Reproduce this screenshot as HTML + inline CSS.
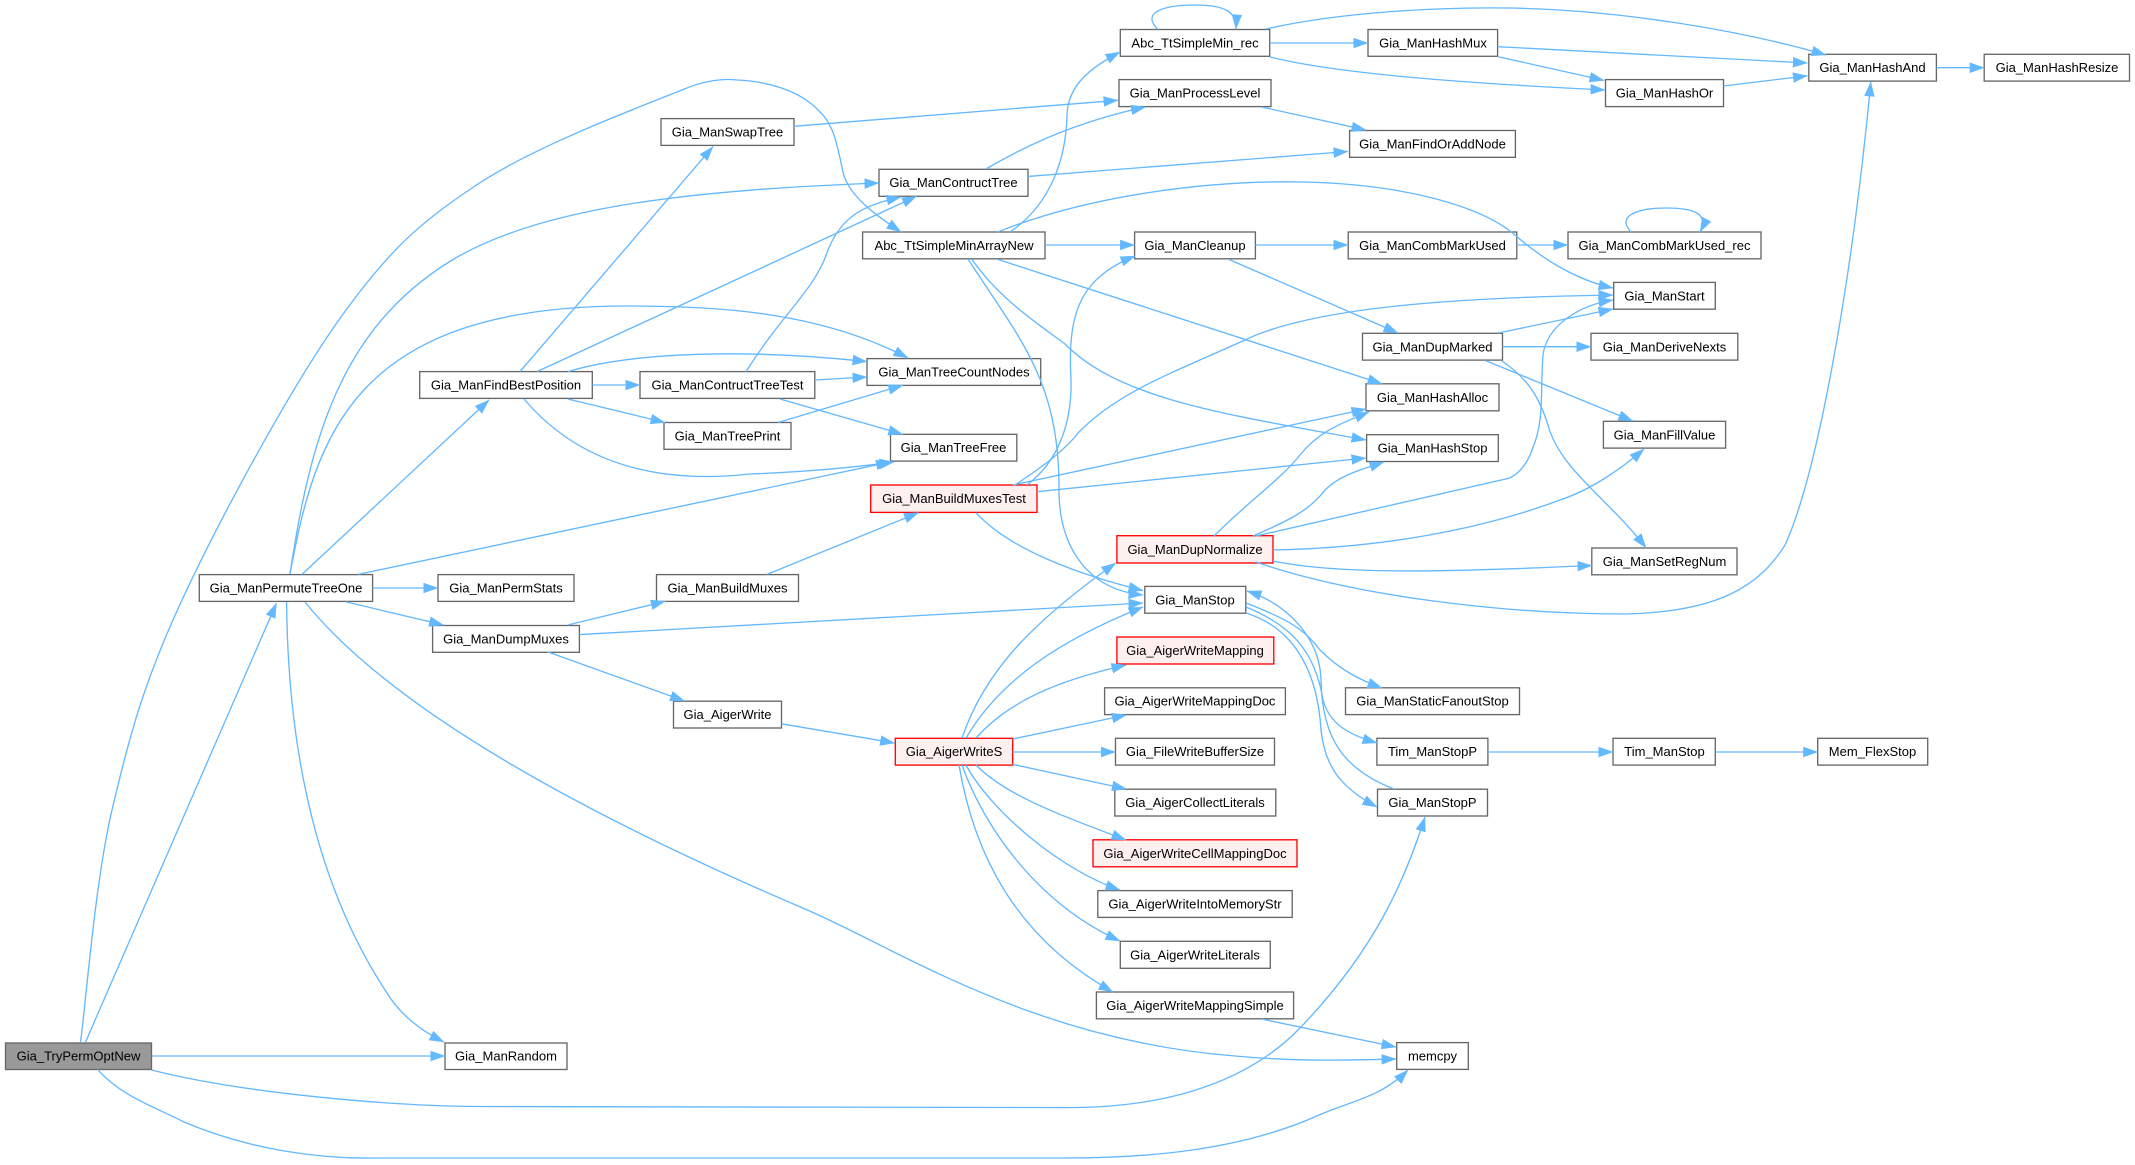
<!DOCTYPE html>
<html><head><meta charset="utf-8"><style>html,body{margin:0;padding:0;background:#fff}svg{display:block}text{font-family:"Liberation Sans",Arial,sans-serif;font-size:13px;text-anchor:middle;fill:#000}</style></head><body>
<svg xmlns="http://www.w3.org/2000/svg" width="2135" height="1165" viewBox="0 0 2135 1165">
<defs><marker id="a" markerUnits="userSpaceOnUse" viewBox="0 0 15 10.5" markerWidth="15" markerHeight="10.5" refX="14.5" refY="5.25" orient="auto"><polygon points="0,0 15,5.25 0,10.5" fill="#63b8ff"/></marker></defs>
<rect width="2135" height="1165" fill="#fff"/>
<g fill="#fff" stroke="#666" stroke-width="1.33">
<rect x="5.5" y="1043" width="146" height="26.5" fill="#999"/>
<rect x="199.3" y="574.6" width="173.3" height="26.8"/>
<rect x="438" y="574.6" width="136" height="26.8"/>
<rect x="656.5" y="574.6" width="142" height="26.8"/>
<rect x="432.6" y="625.5" width="146.8" height="26.8"/>
<rect x="673.5" y="701.2" width="108" height="26.8"/>
<rect x="445" y="1043" width="122" height="26.5"/>
<rect x="661" y="118.6" width="133" height="26.8"/>
<rect x="879" y="169.3" width="149" height="27"/>
<rect x="862.6" y="232" width="182.4" height="26.8"/>
<rect x="419.7" y="371.6" width="172.6" height="26.8"/>
<rect x="640" y="371.6" width="174.8" height="26.8"/>
<rect x="867" y="358.6" width="173.7" height="26.8"/>
<rect x="664" y="422.5" width="127" height="26.8"/>
<rect x="890.5" y="434.3" width="126.3" height="26.8"/>
<rect x="1120.3" y="29.5" width="149.4" height="26.8"/>
<rect x="1368" y="29.5" width="129.6" height="26.8"/>
<rect x="1808.8" y="54.3" width="127.6" height="26.8"/>
<rect x="1984.2" y="54.3" width="145.3" height="26.8"/>
<rect x="1119" y="79.6" width="152" height="27"/>
<rect x="1605.5" y="79.6" width="118" height="27"/>
<rect x="1349.6" y="130.5" width="165.8" height="26.8"/>
<rect x="1134.6" y="232" width="120.8" height="26.8"/>
<rect x="1348.2" y="232" width="168.6" height="26.8"/>
<rect x="1568" y="232" width="193" height="26.8"/>
<rect x="1613.7" y="282.4" width="101.6" height="26.8"/>
<rect x="1362.5" y="333.3" width="140" height="26.8"/>
<rect x="1591" y="333.3" width="146.8" height="26.8"/>
<rect x="1366" y="383.8" width="133" height="27"/>
<rect x="1603.4" y="421.3" width="122.2" height="26.8"/>
<rect x="1366.6" y="434.7" width="131.7" height="26.8"/>
<rect x="1591.8" y="548" width="145.2" height="26.8"/>
<rect x="1144.8" y="586.4" width="101" height="26.8"/>
<rect x="1104.6" y="687.8" width="180.8" height="26.8"/>
<rect x="1115.5" y="738.3" width="159" height="26.8"/>
<rect x="1114.8" y="789.2" width="161" height="26.8"/>
<rect x="1097.8" y="890.6" width="194.4" height="26.8"/>
<rect x="1120.3" y="941.3" width="150" height="27"/>
<rect x="1096.4" y="992" width="197.2" height="26.8"/>
<rect x="1345.5" y="687.8" width="174" height="26.8"/>
<rect x="1376.9" y="738.3" width="111" height="26.8"/>
<rect x="1613" y="738.3" width="102.3" height="26.8"/>
<rect x="1817.7" y="738.3" width="110" height="26.8"/>
<rect x="1377.5" y="789.2" width="110" height="26.8"/>
<rect x="1396.7" y="1042.6" width="71.6" height="26.8"/>
</g>
<g fill="#fff0f0" stroke="#f00" stroke-width="1.33">
<rect x="870.7" y="485" width="166.3" height="27.4"/>
<rect x="1116.9" y="535.7" width="156.1" height="27.3"/>
<rect x="1116.9" y="637" width="156.9" height="27"/>
<rect x="895.3" y="738.3" width="117.4" height="26.8"/>
<rect x="1093" y="839.8" width="204" height="27"/>
</g>
<g fill="none" stroke="#63b8ff" stroke-width="1.33">
<path marker-end="url(#a)" d="M80.5,1042 C86,1003 94.7,883.7 112,810 C129.3,736.3 143.8,682.2 182,600 C220.2,517.8 291.3,386.3 341,317 C390.7,247.7 421.2,221.8 478,184 C534.8,146.2 638.8,107.3 682,90 C700,82 720,78 737,80 C765,81 800,90 819,111 C835,125 838,150 843,172 C848,195 875,215 901,232"/>
<path marker-end="url(#a)" d="M85.3,1042.6 Q181.5,823.5 276.4,603.3"/>
<path marker-end="url(#a)" d="M151.5,1056 L445,1056"/>
<path marker-end="url(#a)" d="M151.5,1070 C250,1095 400,1106 478,1106.5 L1065,1107.6 C1150,1108 1240,1090 1300,1028 C1375,950 1405,880 1425,817"/>
<path marker-end="url(#a)" d="M97.6,1069.4 C120,1095 150,1105 184,1122 C250,1150 320,1159 375,1158 L1065,1158 C1150,1158 1240,1150 1317,1116 C1350,1101 1380,1098 1408,1070"/>
<path marker-end="url(#a)" d="M290,574 C310,440 340,330 449,262 C540,205 700,190 879,183"/>
<path marker-end="url(#a)" d="M290,574 C315,440 350,306 628,306 C720,306 820,312 908,358"/>
<path marker-end="url(#a)" d="M302,574.4 L489,400"/>
<path marker-end="url(#a)" d="M358,574.4 L890.5,462"/>
<path marker-end="url(#a)" d="M372.6,588 L438,588"/>
<path marker-end="url(#a)" d="M346.7,602 L443.6,625"/>
<path marker-end="url(#a)" d="M286.6,602 C288,760 320,890 385,990 C400,1015 420,1030 444,1042"/>
<path marker-end="url(#a)" d="M305,602 C400,720 620,830 805,909 C895,947 1030,1040 1235,1056 C1300,1062 1350,1060 1396,1059"/>
<path marker-end="url(#a)" d="M520,371.6 L713,146.6"/>
<path marker-end="url(#a)" d="M537,371.6 L916.5,196.3"/>
<path marker-end="url(#a)" d="M567.8,371.6 C640,350 760,350 867,361.6"/>
<path marker-end="url(#a)" d="M592.3,385 L640,385"/>
<path marker-end="url(#a)" d="M567.8,399 L665,422.5"/>
<path marker-end="url(#a)" d="M524,399 C580,465 660,484 750,474 C800,472 850,468 894,462"/>
<path marker-end="url(#a)" d="M746,371.6 C785,310 815,290 828,250 C842,215 865,205 901,197"/>
<path marker-end="url(#a)" d="M814.8,380 L867,377"/>
<path marker-end="url(#a)" d="M780,399 L902.8,434.3"/>
<path marker-end="url(#a)" d="M778,422.5 L902.8,385.3"/>
<path marker-end="url(#a)" d="M793.6,126.3 L1118,100.3"/>
<path marker-end="url(#a)" d="M986,169 Q1060,125 1145.5,107"/>
<path marker-end="url(#a)" d="M1028,176.4 L1348,151.5"/>
<path marker-end="url(#a)" d="M1010,232 C1050,205 1066,160 1067,115 C1068,85 1090,68 1120,52"/>
<path marker-end="url(#a)" d="M997.7,232 C1090,195 1210,180 1304,182 C1400,184 1480,205 1515,235 C1540,257 1575,280 1613,288"/>
<path marker-end="url(#a)" d="M1045,245 L1134.6,245"/>
<path marker-end="url(#a)" d="M997.7,259.4 L1382,383.8"/>
<path marker-end="url(#a)" d="M972,259.4 C1000,300 1040,325 1065,344 C1120,400 1230,415 1366,440"/>
<path marker-end="url(#a)" d="M968,259 C1020,340 1060,380 1059,493 C1060,550 1090,590 1143,595"/>
<path marker-end="url(#a)" d="M1027,485 C1060,460 1072,420 1071,380 C1068,320 1075,280 1135,256"/>
<path marker-end="url(#a)" d="M1015,485 C1045,465 1065,450 1079,432 C1120,390 1180,370 1256,335 C1320,310 1430,298 1613,295"/>
<path marker-end="url(#a)" d="M1013,485 L1366,409"/>
<path marker-end="url(#a)" d="M1037,491.7 L1366,458"/>
<path marker-end="url(#a)" d="M976,512.7 C1010,550 1080,575 1143,590.6"/>
<path marker-end="url(#a)" d="M579.4,634.6 L1143,603"/>
<path marker-end="url(#a)" d="M567.8,625 L665.3,601.4"/>
<path marker-end="url(#a)" d="M548,652 L684.5,701"/>
<path marker-end="url(#a)" d="M767,574.4 L918.5,512.7"/>
<path marker-end="url(#a)" d="M781.4,723.8 L894.6,743"/>
<path marker-end="url(#a)" d="M962,738 C985,670 1035,620 1115.7,563"/>
<path marker-end="url(#a)" d="M966,738 C1000,680 1060,640 1143,607"/>
<path marker-end="url(#a)" d="M976,738 C1010,700 1060,680 1126,665"/>
<path marker-end="url(#a)" d="M1012.7,739 L1126.4,715"/>
<path marker-end="url(#a)" d="M1012.7,752 L1115.5,752"/>
<path marker-end="url(#a)" d="M1012.7,764.4 L1126.4,789"/>
<path marker-end="url(#a)" d="M976,765 C1005,795 1060,815 1126,840"/>
<path marker-end="url(#a)" d="M966,765 C990,810 1060,870 1120,890"/>
<path marker-end="url(#a)" d="M962,765 C985,830 1040,905 1120,941"/>
<path marker-end="url(#a)" d="M959,765 C975,860 1020,940 1113,992"/>
<path marker-end="url(#a)" d="M1261.5,1019 L1396,1047"/>
<path marker-end="url(#a)" d="M1246,603 C1290,620 1305,630 1320,650 C1340,670 1360,680 1382,688"/>
<path marker-end="url(#a)" d="M1246,607 C1290,625 1315,650 1323,700 C1330,725 1350,735 1377,743"/>
<path marker-end="url(#a)" d="M1246,613 C1300,630 1318,680 1321,730 C1325,770 1345,790 1377,807"/>
<path marker-end="url(#a)" d="M1394,789 C1345,770 1322,740 1321,680 C1320,640 1290,605 1247,591"/>
<path marker-end="url(#a)" d="M1214,536 C1250,500 1280,480 1300,455 C1320,430 1345,422 1369,412"/>
<path marker-end="url(#a)" d="M1253,536 C1290,520 1310,510 1325,490 C1340,475 1360,470 1384,462"/>
<path marker-end="url(#a)" d="M1256,536 L1510,478 Q1525,470 1532,450 C1545,420 1540,390 1543,355 C1547,325 1580,305 1613,300"/>
<path marker-end="url(#a)" d="M1273,550 C1380,548 1480,530 1560,500 C1590,490 1620,470 1644,449"/>
<path marker-end="url(#a)" d="M1273,561 C1340,575 1450,572 1592,565.5"/>
<path marker-end="url(#a)" d="M1256,562 C1350,595 1500,614 1625,614 C1720,612 1760,585 1785,545 C1815,480 1850,300 1870.8,82"/>
<path marker-end="url(#a)" d="M1261.5,107 L1366,130"/>
<path marker-end="url(#a)" d="M1158,29.5 C1140,12 1165,5 1195,5 C1225,5 1237,12 1236,29"/>
<path marker-end="url(#a)" d="M1266,29 C1340,12 1440,7 1509,8 C1620,10 1740,30 1826,55"/>
<path marker-end="url(#a)" d="M1269.7,43 L1368,43"/>
<path marker-end="url(#a)" d="M1270,57 C1330,72 1440,82 1605,90"/>
<path marker-end="url(#a)" d="M1497.6,46.7 L1807.4,63"/>
<path marker-end="url(#a)" d="M1497.6,56.6 L1604,80.4"/>
<path marker-end="url(#a)" d="M1723.5,86 L1807.4,75.8"/>
<path marker-end="url(#a)" d="M1936.4,67.7 L1984.2,67.7"/>
<path marker-end="url(#a)" d="M1255.4,245 L1348,245"/>
<path marker-end="url(#a)" d="M1228.8,259.4 L1398,333"/>
<path marker-end="url(#a)" d="M1516.8,245 L1568,245"/>
<path marker-end="url(#a)" d="M1631,232 C1615,215 1640,208 1666,208 C1692,208 1710,213 1700,232"/>
<path marker-end="url(#a)" d="M1498.3,333 L1613,309"/>
<path marker-end="url(#a)" d="M1502.4,346.7 L1591,346.7"/>
<path marker-end="url(#a)" d="M1486,360.8 L1632.8,421"/>
<path marker-end="url(#a)" d="M1502,361 C1530,380 1540,400 1548,425 C1560,470 1610,500 1646,548"/>
<path marker-end="url(#a)" d="M1488,752 L1613,752"/>
<path marker-end="url(#a)" d="M1715.3,752 L1817.7,752"/>
</g>
<text x="78.5" y="1060.5">Gia_TryPermOptNew</text>
<text x="286" y="592.5">Gia_ManPermuteTreeOne</text>
<text x="506" y="592.5">Gia_ManPermStats</text>
<text x="727.5" y="592.5">Gia_ManBuildMuxes</text>
<text x="506" y="643.5">Gia_ManDumpMuxes</text>
<text x="727.5" y="719">Gia_AigerWrite</text>
<text x="506" y="1060.5">Gia_ManRandom</text>
<text x="727.5" y="136.5">Gia_ManSwapTree</text>
<text x="953.5" y="187">Gia_ManContructTree</text>
<text x="954" y="250">Abc_TtSimpleMinArrayNew</text>
<text x="506" y="389.5">Gia_ManFindBestPosition</text>
<text x="727.5" y="389.5">Gia_ManContructTreeTest</text>
<text x="954" y="376.5">Gia_ManTreeCountNodes</text>
<text x="727.5" y="440.5">Gia_ManTreePrint</text>
<text x="953.5" y="452">Gia_ManTreeFree</text>
<text x="954" y="503">Gia_ManBuildMuxesTest</text>
<text x="1195" y="47.5">Abc_TtSimpleMin_rec</text>
<text x="1433" y="47.5">Gia_ManHashMux</text>
<text x="1872.5" y="72">Gia_ManHashAnd</text>
<text x="2057" y="72">Gia_ManHashResize</text>
<text x="1195" y="97.5">Gia_ManProcessLevel</text>
<text x="1664.5" y="97.5">Gia_ManHashOr</text>
<text x="1432.5" y="148.5">Gia_ManFindOrAddNode</text>
<text x="1195" y="250">Gia_ManCleanup</text>
<text x="1432.5" y="250">Gia_ManCombMarkUsed</text>
<text x="1664.5" y="250">Gia_ManCombMarkUsed_rec</text>
<text x="1664.5" y="300.5">Gia_ManStart</text>
<text x="1432.5" y="351.5">Gia_ManDupMarked</text>
<text x="1664.5" y="351.5">Gia_ManDeriveNexts</text>
<text x="1432.5" y="402">Gia_ManHashAlloc</text>
<text x="1664.5" y="439.5">Gia_ManFillValue</text>
<text x="1432.5" y="452.5">Gia_ManHashStop</text>
<text x="1195" y="554">Gia_ManDupNormalize</text>
<text x="1664.5" y="566">Gia_ManSetRegNum</text>
<text x="1195" y="604.5">Gia_ManStop</text>
<text x="1195" y="655">Gia_AigerWriteMapping</text>
<text x="1195" y="705.5">Gia_AigerWriteMappingDoc</text>
<text x="954" y="756">Gia_AigerWriteS</text>
<text x="1195" y="756">Gia_FileWriteBufferSize</text>
<text x="1195" y="807">Gia_AigerCollectLiterals</text>
<text x="1195" y="858">Gia_AigerWriteCellMappingDoc</text>
<text x="1195" y="908.5">Gia_AigerWriteIntoMemoryStr</text>
<text x="1195" y="959.5">Gia_AigerWriteLiterals</text>
<text x="1195" y="1010">Gia_AigerWriteMappingSimple</text>
<text x="1432.5" y="705.5">Gia_ManStaticFanoutStop</text>
<text x="1432.5" y="756">Tim_ManStopP</text>
<text x="1664.5" y="756">Tim_ManStop</text>
<text x="1872.5" y="756">Mem_FlexStop</text>
<text x="1432.5" y="807">Gia_ManStopP</text>
<text x="1432.5" y="1060.5">memcpy</text>
</svg>
</body></html>
